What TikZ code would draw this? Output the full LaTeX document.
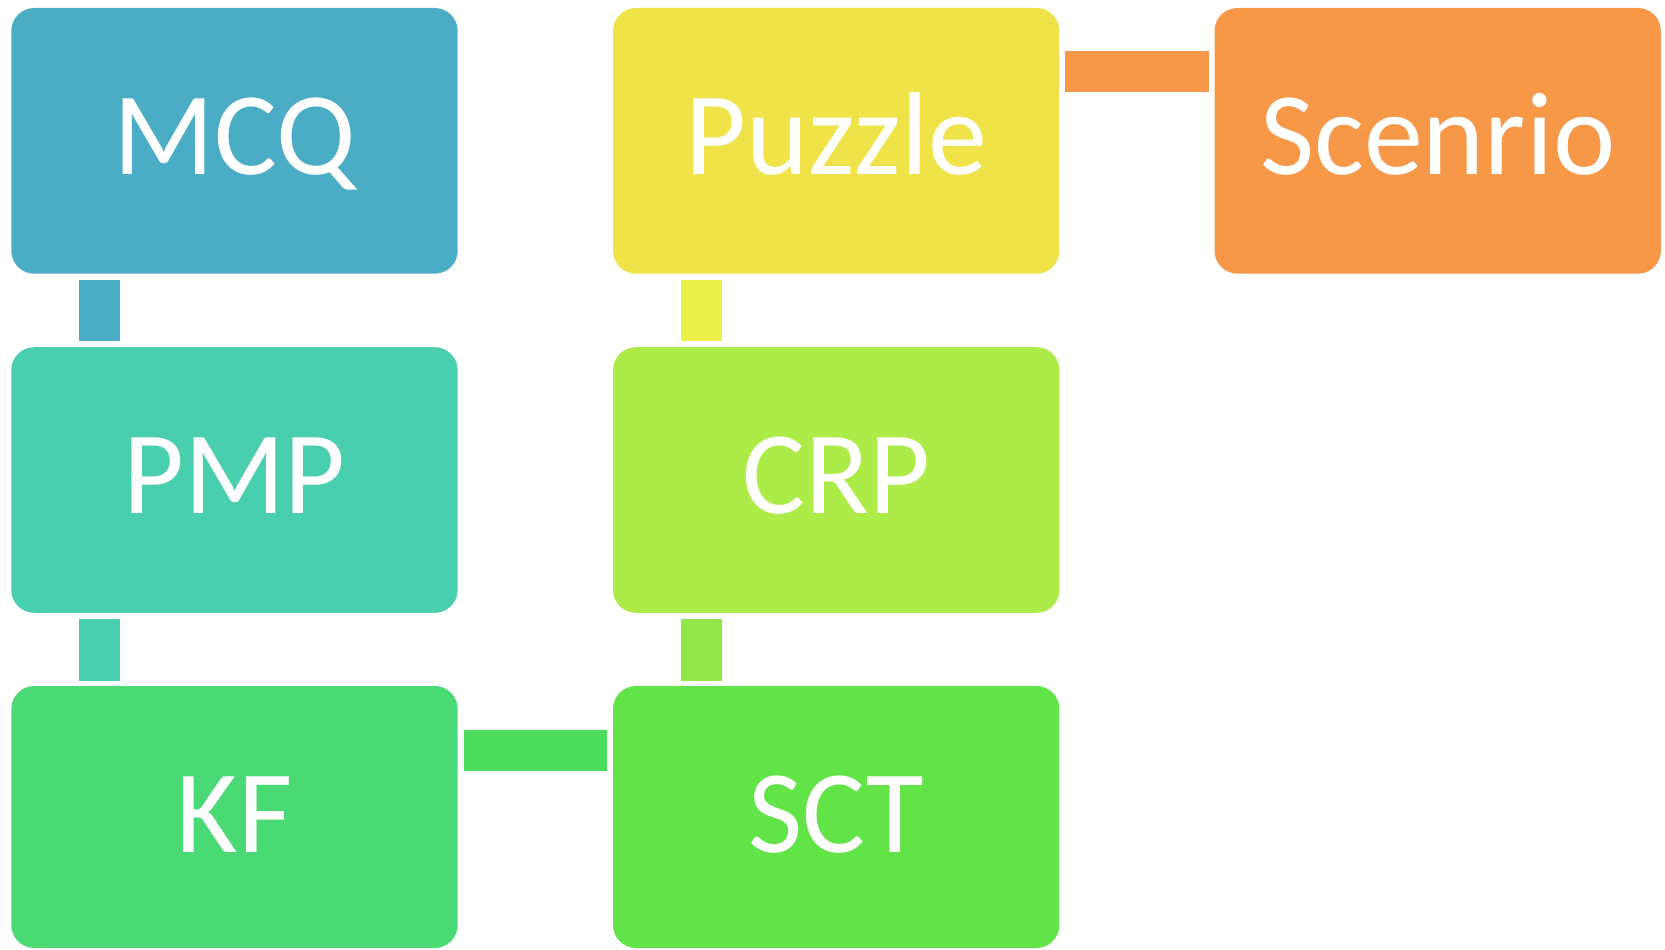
\documentclass[tikz,border=0pt]{standalone}
\usepackage{fontspec}
\setmainfont{Carlito}
\usetikzlibrary{calc}
\definecolor{cMCQ}{HTML}{4BACC6}
\definecolor{cPMP}{HTML}{4ACFAE}
\definecolor{cKF}{HTML}{4AD975}
\definecolor{cPuz}{HTML}{F0E34A}
\definecolor{cCRP}{HTML}{ADEB48}
\definecolor{cSCT}{HTML}{62E448}
\definecolor{cSce}{HTML}{F79748}
\definecolor{bPuzCRP}{HTML}{ECF048}
\definecolor{bCRPSCT}{HTML}{92E848}
\definecolor{bKFSCT}{HTML}{4ADC5A}
\tikzset{
  box/.style={rectangle, rounded corners=23pt, minimum width=446.4pt, minimum height=265.7pt,
    inner sep=0pt, text=white, font=\fontsize{118}{122}\selectfont,
    text height=75pt, text depth=0pt},
  bar/.style={line width=41pt, line cap=butt},
}
\begin{document}
\begin{tikzpicture}[x=1pt,y=-1pt]
\useasboundingbox (0,0) rectangle (1665,950);
\fill[white] (0,0) rectangle (1665,950);
% boxes
\node[box, fill=cMCQ] (mcq) at (234.5,140.85) {\raisebox{4.3pt}{MCQ}};
\node[box, fill=cPMP] (pmp) at (234.5,480) {\raisebox{4.3pt}{PMP}};
\node[box, fill=cKF, minimum height=262pt] (kf) at (234.5,817) {\raisebox{2.5pt}{KF}};
\node[box, fill=cPuz] (puz) at (836.2,140.85) {\raisebox{4.3pt}{Puzzle}};
\node[box, fill=cCRP] (crp) at (836.2,480) {\raisebox{4.3pt}{CRP}};
\node[box, fill=cSCT, minimum height=262pt] (sct) at (836.2,817) {\raisebox{2.5pt}{SCT}};
\node[box, fill=cSce] (sce) at (1437.7,140.85) {\raisebox{4.3pt}{Scenrio}};
% connectors
\draw[bar, cMCQ] ($(mcq.south west)+(88.2,5.6)$) -- ($(pmp.north west)+(88.2,-5.6)$);
\draw[bar, cPMP] ($(pmp.south west)+(88.2,6.3)$) -- ($(kf.north west)+(88.2,-5.3)$);
\draw[bar, bPuzCRP] ($(puz.south west)+(88.7,5.6)$) -- ($(crp.north west)+(88.7,-5.6)$);
\draw[bar, bCRPSCT] ($(crp.south west)+(88.7,6.3)$) -- ($(sct.north west)+(88.7,-5.3)$);
\draw[bar, cSce] ($(puz.north east)+(5.2,63.35)$) -- ($(sce.north west)+(-5.7,63.35)$);
\draw[bar, bKFSCT] ($(kf.north east)+(5.7,64.5)$) -- ($(sct.north west)+(-5.6,64.5)$);
\end{tikzpicture}
\end{document}
